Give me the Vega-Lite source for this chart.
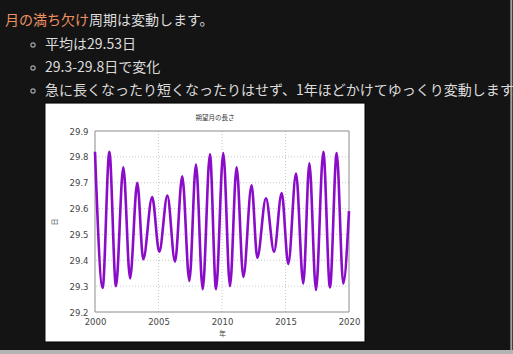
{
  "$schema": "https://vega.github.io/schema/vega-lite/v6.json",
  "autosize": "none",
  "width": 254,
  "height": 181,
  "padding": {"left": 95, "top": 131, "right": 164, "bottom": 42},
  "background": "#141414",
  "config": {
    "view": {"stroke": null},
    "font": "DejaVu Sans",
    "axisX": {"grid": false, "domain": false, "ticks": false, "labelFontSize": 8.5, "labelColor": "#444444", "labelPadding": 5, "labelFlush": false, "titleFont": "Noto Sans CJK JP", "titleFontSize": 7, "titleFontWeight": "normal", "titleColor": "#444444", "titlePadding": 4},
    "axisY": {"grid": false, "domain": false, "ticks": false, "labelFontSize": 8.5, "labelColor": "#444444", "labelPadding": 7, "labelFlush": false, "titleFont": "Noto Sans CJK JP", "titleFontSize": 7, "titleFontWeight": "normal", "titleColor": "#444444", "titlePadding": 12}
  },
  "layer": [
    {
      "data": {"values": [{}]},
      "mark": {"type": "rect", "fill": "#b4b4b4"},
      "encoding": {
        "x": {"datum": 1990, "type": "quantitative", "scale": {"domain": [2000, 2020], "nice": false, "zero": false}, "axis": {"title": "年", "zindex": 1, "values": [2000, 2005, 2010, 2015, 2020], "format": "d"}},
        "x2": {"datum": 2040},
        "y": {"datum": 29.053, "type": "quantitative", "scale": {"domain": [29.2, 29.9], "nice": false, "zero": false}, "axis": {"title": "日", "zindex": 1, "values": [29.2, 29.3, 29.4, 29.5, 29.6, 29.7, 29.8, 29.9], "format": ".1f"}},
        "y2": {"datum": 29.0}
      }
    },
    {
      "data": {"values": [{}]},
      "mark": {"type": "rect", "fill": "#a0a0a0"},
      "encoding": {
        "x": {"datum": 2032.7, "type": "quantitative", "scale": {"domain": [2000, 2020], "nice": false, "zero": false}, "axis": {"title": "年", "zindex": 1, "values": [2000, 2005, 2010, 2015, 2020], "format": "d"}},
        "x2": {"datum": 2032.86},
        "y": {"datum": 30.5, "type": "quantitative", "scale": {"domain": [29.2, 29.9], "nice": false, "zero": false}, "axis": {"title": "日", "zindex": 1, "values": [29.2, 29.3, 29.4, 29.5, 29.6, 29.7, 29.8, 29.9], "format": ".1f"}},
        "y2": {"datum": 29.053}
      }
    },
    {
      "data": {"values": [{}]},
      "mark": {"type": "rect", "fill": "#ffffff", "stroke": "#000000", "strokeWidth": 1},
      "encoding": {
        "x": {"datum": 1996.06, "type": "quantitative", "scale": {"domain": [2000, 2020], "nice": false, "zero": false}, "axis": {"title": "年", "zindex": 1, "values": [2000, 2005, 2010, 2015, 2020], "format": "d"}},
        "x2": {"datum": 2021.26},
        "y": {"datum": 30.008, "type": "quantitative", "scale": {"domain": [29.2, 29.9], "nice": false, "zero": false}, "axis": {"title": "日", "zindex": 1, "values": [29.2, 29.3, 29.4, 29.5, 29.6, 29.7, 29.8, 29.9], "format": ".1f"}},
        "y2": {"datum": 29.084}
      }
    },
    {
      "data": {"values": [{"yr": 2005}, {"yr": 2010}, {"yr": 2015}]},
      "mark": {"type": "rule", "color": "#bbbbbb", "strokeWidth": 0.8, "strokeDash": [1, 2]},
      "encoding": {
        "x": {"field": "yr", "type": "quantitative", "scale": {"domain": [2000, 2020], "nice": false, "zero": false}, "axis": {"title": "年", "zindex": 1, "values": [2000, 2005, 2010, 2015, 2020], "format": "d"}}
      }
    },
    {
      "data": {"values": [{"d": 29.3}, {"d": 29.4}, {"d": 29.5}, {"d": 29.6}, {"d": 29.7}, {"d": 29.8}]},
      "mark": {"type": "rule", "color": "#bbbbbb", "strokeWidth": 0.8, "strokeDash": [1, 2]},
      "encoding": {
        "y": {"field": "d", "type": "quantitative", "scale": {"domain": [29.2, 29.9], "nice": false, "zero": false}, "axis": {"title": "日", "zindex": 1, "values": [29.2, 29.3, 29.4, 29.5, 29.6, 29.7, 29.8, 29.9], "format": ".1f"}}
      }
    },
    {
      "data": {"values": [{}]},
      "mark": {"type": "rect", "fillOpacity": 0, "stroke": "#8c8c8c", "strokeWidth": 1},
      "encoding": {
        "x": {"datum": 2000, "type": "quantitative", "scale": {"domain": [2000, 2020], "nice": false, "zero": false}, "axis": {"title": "年", "zindex": 1, "values": [2000, 2005, 2010, 2015, 2020], "format": "d"}},
        "x2": {"datum": 2020},
        "y": {"datum": 29.2, "type": "quantitative", "scale": {"domain": [29.2, 29.9], "nice": false, "zero": false}, "axis": {"title": "日", "zindex": 1, "values": [29.2, 29.3, 29.4, 29.5, 29.6, 29.7, 29.8, 29.9], "format": ".1f"}},
        "y2": {"datum": 29.9}
      }
    },
    {
      "data": {"values": [
        {"year": 2000.00, "days": 29.82},
        {"year": 2000.60, "days": 29.293},
        {"year": 2001.13, "days": 29.82},
        {"year": 2001.65, "days": 29.30},
        {"year": 2002.23, "days": 29.76},
        {"year": 2002.76, "days": 29.33},
        {"year": 2003.33, "days": 29.70},
        {"year": 2003.80, "days": 29.404},
        {"year": 2004.50, "days": 29.645},
        {"year": 2005.06, "days": 29.433},
        {"year": 2005.70, "days": 29.65},
        {"year": 2006.30, "days": 29.395},
        {"year": 2006.87, "days": 29.725},
        {"year": 2007.43, "days": 29.32},
        {"year": 2007.95, "days": 29.77},
        {"year": 2008.48, "days": 29.288},
        {"year": 2009.05, "days": 29.81},
        {"year": 2009.53, "days": 29.288},
        {"year": 2010.10, "days": 29.815},
        {"year": 2010.63, "days": 29.30},
        {"year": 2011.15, "days": 29.76},
        {"year": 2011.68, "days": 29.336},
        {"year": 2012.33, "days": 29.69},
        {"year": 2012.78, "days": 29.41},
        {"year": 2013.46, "days": 29.64},
        {"year": 2014.10, "days": 29.433},
        {"year": 2014.70, "days": 29.66},
        {"year": 2015.22, "days": 29.386},
        {"year": 2015.83, "days": 29.735},
        {"year": 2016.40, "days": 29.31},
        {"year": 2016.88, "days": 29.775},
        {"year": 2017.40, "days": 29.285},
        {"year": 2017.98, "days": 29.82},
        {"year": 2018.50, "days": 29.295},
        {"year": 2019.03, "days": 29.815},
        {"year": 2019.55, "days": 29.31},
        {"year": 2020.00, "days": 29.59}
      ]},
      "mark": {"type": "line", "color": "#8a0cc8", "strokeWidth": 2.6, "interpolate": "monotone"},
      "encoding": {
        "x": {"field": "year", "type": "quantitative", "scale": {"domain": [2000, 2020], "nice": false, "zero": false}, "axis": {"title": "年", "zindex": 1, "values": [2000, 2005, 2010, 2015, 2020], "format": "d"}},
        "y": {"field": "days", "type": "quantitative", "scale": {"domain": [29.2, 29.9], "nice": false, "zero": false}, "axis": {"title": "日", "zindex": 1, "values": [29.2, 29.3, 29.4, 29.5, 29.6, 29.7, 29.8, 29.9], "format": ".1f"}}
      }
    },
    {
      "data": {"values": [{}]},
      "mark": {"type": "text", "text": "朔望月の長さ", "font": "Noto Sans CJK JP", "fontSize": 6.5, "align": "center", "baseline": "middle", "color": "#333333"},
      "encoding": {
        "x": {"datum": 2009.45, "type": "quantitative", "scale": {"domain": [2000, 2020], "nice": false, "zero": false}, "axis": {"title": "年", "zindex": 1, "values": [2000, 2005, 2010, 2015, 2020], "format": "d"}},
        "y": {"datum": 29.95, "type": "quantitative", "scale": {"domain": [29.2, 29.9], "nice": false, "zero": false}, "axis": {"title": "日", "zindex": 1, "values": [29.2, 29.3, 29.4, 29.5, 29.6, 29.7, 29.8, 29.9], "format": ".1f"}}
      }
    },
    {
      "data": {"values": [{}]},
      "mark": {"type": "text", "text": "月の満ち欠け", "font": "Noto Sans CJK JP", "fontSize": 14, "align": "left", "baseline": "middle", "color": "#ee9262"},
      "encoding": {
        "x": {"datum": 1992.913, "type": "quantitative", "scale": {"domain": [2000, 2020], "nice": false, "zero": false}, "axis": {"title": "年", "zindex": 1, "values": [2000, 2005, 2010, 2015, 2020], "format": "d"}},
        "y": {"datum": 30.325, "type": "quantitative", "scale": {"domain": [29.2, 29.9], "nice": false, "zero": false}, "axis": {"title": "日", "zindex": 1, "values": [29.2, 29.3, 29.4, 29.5, 29.6, 29.7, 29.8, 29.9], "format": ".1f"}}
      }
    },
    {
      "data": {"values": [{}]},
      "mark": {"type": "text", "text": "周期は変動します。", "font": "Noto Sans CJK JP", "fontSize": 14, "align": "left", "baseline": "middle", "color": "#dcdcdc"},
      "encoding": {
        "x": {"datum": 1999.528, "type": "quantitative", "scale": {"domain": [2000, 2020], "nice": false, "zero": false}, "axis": {"title": "年", "zindex": 1, "values": [2000, 2005, 2010, 2015, 2020], "format": "d"}},
        "y": {"datum": 30.325, "type": "quantitative", "scale": {"domain": [29.2, 29.9], "nice": false, "zero": false}, "axis": {"title": "日", "zindex": 1, "values": [29.2, 29.3, 29.4, 29.5, 29.6, 29.7, 29.8, 29.9], "format": ".1f"}}
      }
    },
    {
      "data": {"values": [{}]},
      "mark": {"type": "text", "text": "平均は29.53日", "font": "Noto Sans CJK JP", "fontSize": 14, "align": "left", "baseline": "middle", "color": "#dcdcdc"},
      "encoding": {
        "x": {"datum": 1996.063, "type": "quantitative", "scale": {"domain": [2000, 2020], "nice": false, "zero": false}, "axis": {"title": "年", "zindex": 1, "values": [2000, 2005, 2010, 2015, 2020], "format": "d"}},
        "y": {"datum": 30.2326, "type": "quantitative", "scale": {"domain": [29.2, 29.9], "nice": false, "zero": false}, "axis": {"title": "日", "zindex": 1, "values": [29.2, 29.3, 29.4, 29.5, 29.6, 29.7, 29.8, 29.9], "format": ".1f"}}
      }
    },
    {
      "data": {"values": [{}]},
      "mark": {"type": "text", "text": "29.3-29.8日で変化", "font": "Noto Sans CJK JP", "fontSize": 14, "align": "left", "baseline": "middle", "color": "#dcdcdc"},
      "encoding": {
        "x": {"datum": 1996.063, "type": "quantitative", "scale": {"domain": [2000, 2020], "nice": false, "zero": false}, "axis": {"title": "年", "zindex": 1, "values": [2000, 2005, 2010, 2015, 2020], "format": "d"}},
        "y": {"datum": 30.1436, "type": "quantitative", "scale": {"domain": [29.2, 29.9], "nice": false, "zero": false}, "axis": {"title": "日", "zindex": 1, "values": [29.2, 29.3, 29.4, 29.5, 29.6, 29.7, 29.8, 29.9], "format": ".1f"}}
      }
    },
    {
      "data": {"values": [{}]},
      "mark": {"type": "text", "text": "急に長くなったり短くなったりはせず、1年ほどかけてゆっくり変動します。", "font": "Noto Sans CJK JP", "fontSize": 14, "align": "left", "baseline": "middle", "color": "#dcdcdc"},
      "encoding": {
        "x": {"datum": 1996.063, "type": "quantitative", "scale": {"domain": [2000, 2020], "nice": false, "zero": false}, "axis": {"title": "年", "zindex": 1, "values": [2000, 2005, 2010, 2015, 2020], "format": "d"}},
        "y": {"datum": 30.0547, "type": "quantitative", "scale": {"domain": [29.2, 29.9], "nice": false, "zero": false}, "axis": {"title": "日", "zindex": 1, "values": [29.2, 29.3, 29.4, 29.5, 29.6, 29.7, 29.8, 29.9], "format": ".1f"}}
      }
    },
    {
      "data": {"values": [{}]},
      "mark": {"type": "point", "shape": "circle", "size": 18, "filled": false, "stroke": "#dcdcdc", "strokeWidth": 1.2},
      "encoding": {
        "x": {"datum": 1995.118, "type": "quantitative", "scale": {"domain": [2000, 2020], "nice": false, "zero": false}, "axis": {"title": "年", "zindex": 1, "values": [2000, 2005, 2010, 2015, 2020], "format": "d"}},
        "y": {"datum": 30.2326, "type": "quantitative", "scale": {"domain": [29.2, 29.9], "nice": false, "zero": false}, "axis": {"title": "日", "zindex": 1, "values": [29.2, 29.3, 29.4, 29.5, 29.6, 29.7, 29.8, 29.9], "format": ".1f"}}
      }
    },
    {
      "data": {"values": [{}]},
      "mark": {"type": "point", "shape": "circle", "size": 18, "filled": false, "stroke": "#dcdcdc", "strokeWidth": 1.2},
      "encoding": {
        "x": {"datum": 1995.118, "type": "quantitative", "scale": {"domain": [2000, 2020], "nice": false, "zero": false}, "axis": {"title": "年", "zindex": 1, "values": [2000, 2005, 2010, 2015, 2020], "format": "d"}},
        "y": {"datum": 30.1436, "type": "quantitative", "scale": {"domain": [29.2, 29.9], "nice": false, "zero": false}, "axis": {"title": "日", "zindex": 1, "values": [29.2, 29.3, 29.4, 29.5, 29.6, 29.7, 29.8, 29.9], "format": ".1f"}}
      }
    },
    {
      "data": {"values": [{}]},
      "mark": {"type": "point", "shape": "circle", "size": 18, "filled": false, "stroke": "#dcdcdc", "strokeWidth": 1.2},
      "encoding": {
        "x": {"datum": 1995.118, "type": "quantitative", "scale": {"domain": [2000, 2020], "nice": false, "zero": false}, "axis": {"title": "年", "zindex": 1, "values": [2000, 2005, 2010, 2015, 2020], "format": "d"}},
        "y": {"datum": 30.0547, "type": "quantitative", "scale": {"domain": [29.2, 29.9], "nice": false, "zero": false}, "axis": {"title": "日", "zindex": 1, "values": [29.2, 29.3, 29.4, 29.5, 29.6, 29.7, 29.8, 29.9], "format": ".1f"}}
      }
    }
  ]
}
